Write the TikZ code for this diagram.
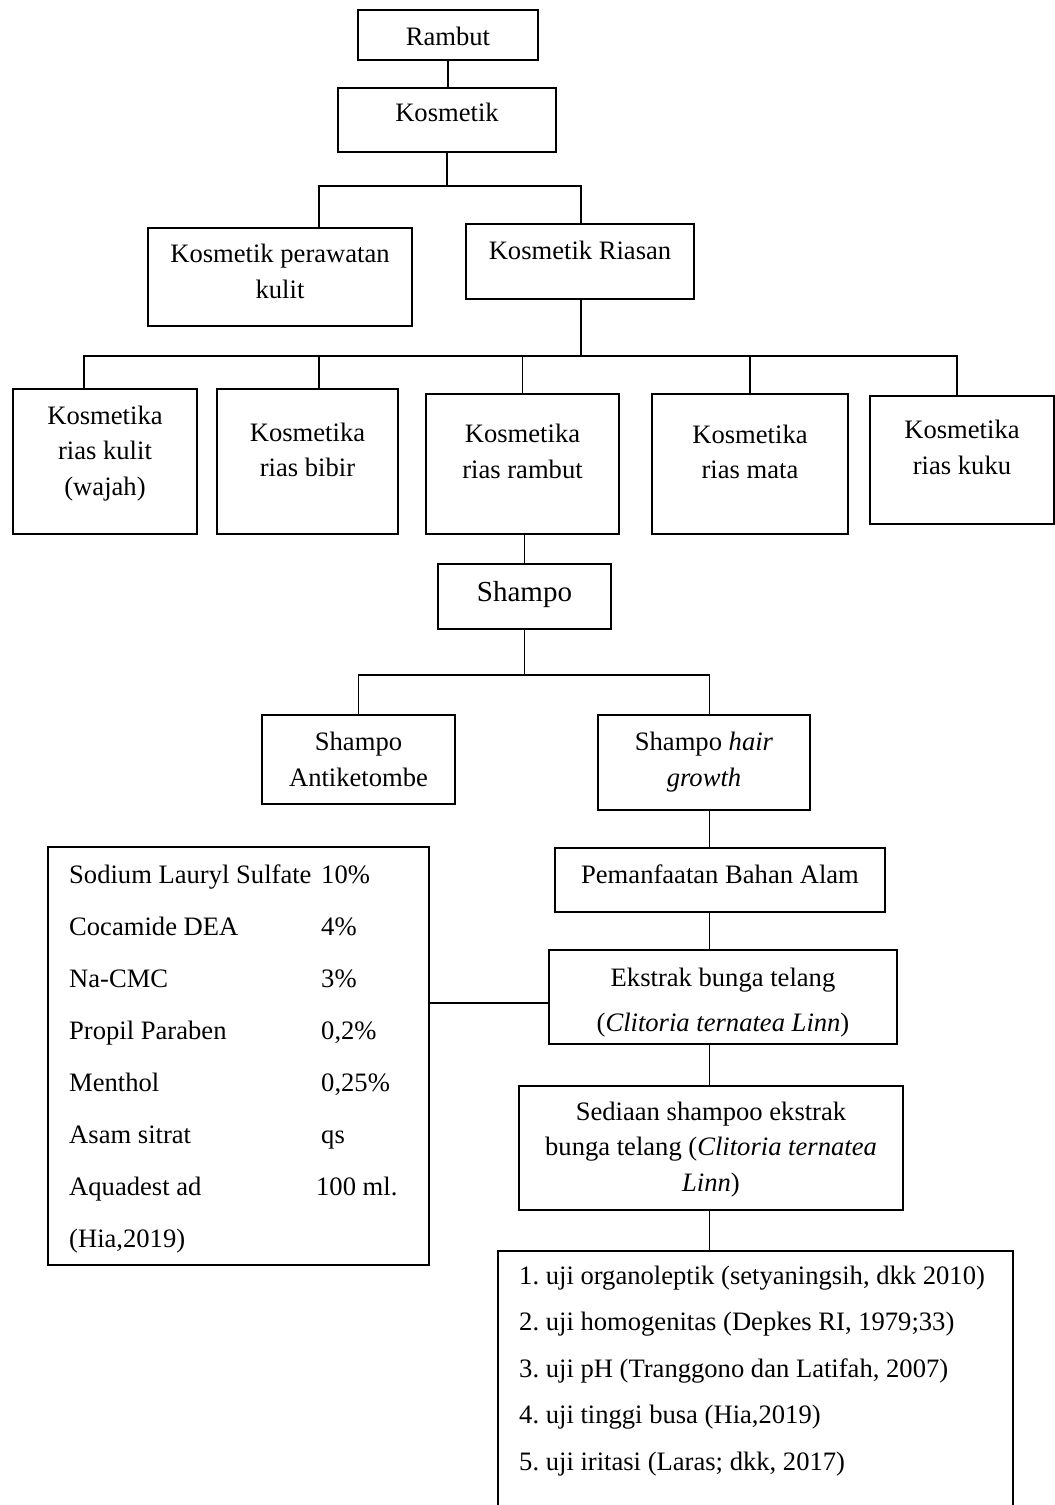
\documentclass[tikz,border=0pt]{standalone}
\usepackage{fontspec}
\setmainfont{Liberation Serif}
\usepackage{tikz}
\frenchspacing

\newcommand{\komp}[2]{\makebox[252pt][l]{#1}#2}

\begin{document}
\begin{tikzpicture}[x=1pt, y=-1pt,
  font=\fontsize{26.6}{35.5}\selectfont,
  box/.style={draw, line width=2.4pt, anchor=north, inner sep=0pt, align=center},
  listbox/.style={box, anchor=north west, inner xsep=21pt, align=left,
    execute at begin node={\spaceskip=0pt\xspaceskip=0pt\relax}},
  tb/.style 2 args={text height=#1pt, text depth=#2pt},
  link/.style={line width=1.1pt}]
  \useasboundingbox (0,0) rectangle (1055,1505);

  % top of the tree
  \node[box, minimum width=180pt, tb={35}{15}] (rambut) at (448,9) {Rambut};
  \node[box, minimum width=218pt, tb={33}{31}] (kosmetik) at (447,87) {Kosmetik};
  \node[box, minimum width=264pt, tb={70}{28}] (perawatan) at (280,227) {Kosmetik perawatan\\kulit};
  \node[box, minimum width=228pt, tb={35}{40}] (riasan) at (580,223) {Kosmetik Riasan};

  % kosmetika rias
  \node[box, minimum width=184pt, tb={106}{39}] (wajah) at (105,388) {Kosmetika\\rias kulit\\(wajah)};
  \node[box, minimum width=181pt, tb={87.5}{57.5}] (bibir) at (307.5,388) {Kosmetika\\rias bibir};
  \node[box, minimum width=193pt, tb={84}{56}] (riasrambut) at (522.5,393) {Kosmetika\\rias rambut};
  \node[box, minimum width=196pt, tb={84.5}{55.5}] (mata) at (750,393) {Kosmetika\\rias mata};
  \node[box, minimum width=184pt, tb={78}{50}] (kuku) at (962,395) {Kosmetika\\rias kuku};

  % shampo
  \node[box, minimum width=173pt, tb={37}{28}, font=\fontsize{29}{35}\selectfont] (shampo) at (524.5,563) {Shampo};
  \node[box, minimum width=193pt, tb={71}{18}] (antiketombe) at (358.5,714) {Shampo\\Antiketombe};
  \node[box, minimum width=212pt, tb={71}{24}] (hairgrowth) at (704,714) {Shampo \textit{hair}\\\textit{growth}};
  \node[box, minimum width=330pt, tb={35}{29}] (pemanfaatan) at (720,847) {Pemanfaatan Bahan Alam};
  \node[box, minimum width=348pt, tb={81}{13}] (ekstrak) at (723,949)
    {Ekstrak bunga telang\\[9.5pt](\textit{Clitoria ternatea Linn})};
  \node[box, minimum width=384pt, tb={105}{19}] (sediaan) at (711,1085)
    {Sediaan shampoo ekstrak\\bunga telang (\textit{Clitoria ternatea}\\\textit{Linn})};

  % formula and tests
  \node[listbox, text width=339pt, tb={36}{382}, font=\fontsize{26.6}{52}\selectfont] (bahan) at (47,846)
    {\komp{Sodium Lauryl Sulfate}{10\%}\\
     \komp{Cocamide DEA}{4\%}\\
     \komp{Na-CMC}{3\%}\\
     \komp{Propil Paraben}{0,2\%}\\
     \komp{Menthol}{0,25\%}\\
     \komp{Asam sitrat}{qs}\\
     \komp{Aquadest ad}{\hspace*{-5pt}100 ml.}\\
     (Hia,2019)};
  \node[listbox, text width=473pt, tb={33}{232}, font=\fontsize{26.6}{46.5}\selectfont] (uji) at (497,1250)
    {\mbox{1. uji organoleptik (setyaningsih, dkk 2010)}\\
     2. uji homogenitas (Depkes RI, 1979;33)\\
     3. uji pH (Tranggono dan Latifah, 2007)\\
     4. uji tinggi busa (Hia,2019)\\
     5. uji iritasi (Laras; dkk, 2017)};

  % connectors
  \coordinate (b1l) at (319,186);
  \coordinate (b1r) at (581,186);
  \coordinate (b2l) at (84,356);
  \coordinate (b2r) at (957,356);
  \coordinate (b3l) at (359,675);
  \coordinate (b3r) at (709.5,675);
  \coordinate (b4) at (0,1003);

  \draw[link] (rambut.south) -- (rambut.south |- kosmetik.north);
  \draw[link] (kosmetik.south) -- (kosmetik.south |- b1l);
  \draw[link] (perawatan.north -| b1l) |- (b1r) -- (riasan.north -| b1r);
  \draw[link] (riasan.south -| b1r) -- (b1r |- b2l);
  \draw[link] (wajah.north -| b2l) |- (b2r) -- (kuku.north -| b2r);
  \draw[link] (bibir.north -| b1l) -- (b1l |- b2l);
  \draw[link] (riasrambut.north) -- (riasrambut.north |- b2l);
  \draw[link] (mata.north) -- (mata.north |- b2l);
  \draw[link] (riasrambut.south -| shampo.north) -- (shampo.north);
  \draw[link] (shampo.south) -- (shampo.south |- b3l);
  \draw[link] (antiketombe.north) |- (b3r) -- (hairgrowth.north -| b3r);
  \draw[link] (hairgrowth.south -| b3r) -- (pemanfaatan.north -| b3r);
  \draw[link] (pemanfaatan.south -| b3r) -- (ekstrak.north -| b3r);
  \draw[link] (ekstrak.south -| b3r) -- (sediaan.north -| b3r);
  \draw[link] (sediaan.south -| b3r) -- (uji.north -| b3r);
  \draw[link] (bahan.east |- b4) -- (ekstrak.west |- b4);
\end{tikzpicture}
\end{document}
